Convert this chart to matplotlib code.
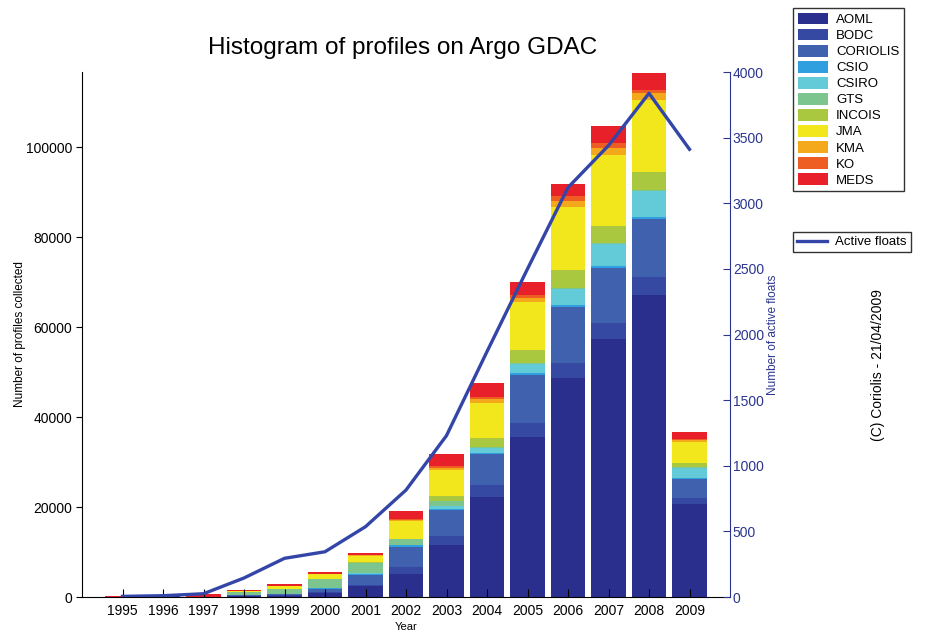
import matplotlib
matplotlib.use("Agg")
import matplotlib.pyplot as plt
from matplotlib.patches import Patch
from matplotlib.lines import Line2D

"""
Argo GDAC profiles per year, stacked by DAC, with active floats on a second axis
"""

years = list(range(1995, 2010))

dacs = ["AOML", "BODC", "CORIOLIS", "CSIO", "CSIRO", "GTS", "INCOIS", "JMA", "KMA", "KO", "MEDS"]
dac_colors = ["#2a2f8e", "#3549a3", "#3f61ae", "#2f9fdf", "#63cbd8", "#7cc58f",
	"#a9c840", "#f2e61c", "#f4a81c", "#ee5e22", "#e8202a"]

aoml = [50, 200, 100, 200, 300, 1000, 2400, 5200, 11500, 22300, 35600, 48600, 57300, 67200, 20600]
bodc = [0, 0, 0, 100, 100, 200, 300, 1500, 2100, 2600, 3000, 3500, 3500, 4000, 1500]
coriolis = [0, 0, 0, 100, 200, 600, 2100, 4400, 5700, 6900, 10800, 12400, 12400, 12700, 4100]
csio = [0, 0, 0, 100, 100, 200, 300, 400, 300, 200, 300, 400, 300, 500, 300]
csiro = [0, 0, 0, 0, 0, 100, 200, 100, 700, 1100, 2100, 3500, 4900, 5800, 2200]
gts = [0, 0, 0, 600, 1000, 1800, 2300, 1300, 1100, 300, 300, 300, 300, 300, 300]
incois = [0, 0, 0, 100, 100, 100, 100, 100, 1100, 2000, 2900, 3900, 3700, 4000, 800]
jma = [0, 0, 0, 200, 700, 1100, 1500, 3800, 5700, 7700, 10500, 14100, 15800, 15900, 4600]
kma = [0, 0, 0, 0, 50, 50, 100, 300, 450, 800, 1000, 1250, 1500, 1500, 400]
ko = [0, 0, 0, 0, 0, 50, 100, 300, 500, 600, 700, 1100, 1100, 800, 300]
meds = [200, 0, 500, 150, 350, 400, 450, 1700, 2600, 3100, 2900, 2800, 3900, 3800, 1600]

active_floats = [5, 10, 25, 145, 295, 345, 536, 815, 1230, 1870, 2500, 3120, 3440, 3838, 3411]

left_ticks = [0, 20000, 40000, 60000, 80000, 100000]
right_ticks = list(range(0, 4001, 500))

line_color = "#3346a8"
axis_blue = "#2b3590"


def stacked_bars(ax, series):
	"""draws the stacked bars, bottom up in dacs order"""
	bottom = [0] * len(years)
	for name, values, color in zip(dacs, series, dac_colors):
		ax.bar(years, values, width=0.84, bottom=bottom, color=color, label=name,
			linewidth=0)
		bottom = [b + v for b, v in zip(bottom, values)]


def main():
	plt.rcParams["font.family"] = ["Liberation Sans", "DejaVu Sans"]

	fig = plt.figure(figsize=(9.33, 6.35), dpi=100)
	ax = fig.add_axes([82 / 933, 0.0598, 648 / 933, 0.8268])

	series = [aoml, bodc, coriolis, csio, csiro, gts, incois, jma, kma, ko, meds]
	stacked_bars(ax, series)

	ax.set_xlim(1994, 2010)
	ax.set_ylim(0, 116667)
	ax.set_xticks(years)
	ax.set_xticklabels([str(y) for y in years])
	ax.set_yticks(left_ticks)
	ax.set_yticklabels([str(t) for t in left_ticks])
	ax.tick_params(axis="x", direction="in", length=6, labelsize=10, pad=5)
	ax.tick_params(axis="y", direction="out", length=4, labelsize=10, pad=3)
	ax.spines["top"].set_visible(False)
	ax.spines["right"].set_visible(False)
	ax.set_xlabel("Year", fontsize=8, labelpad=3)
	ax.set_ylabel("Number of profiles collected", fontsize=8.5, labelpad=0)
	fig.text(403 / 933, 1 - 48 / 635, "Histogram of profiles on Argo GDAC", fontsize=17.5,
		ha="center", va="center")

	# active floats on the right hand axis
	ax2 = ax.twinx()
	ax2.plot(years, active_floats, color=line_color, linewidth=2.4)
	ax2.set_ylim(0, 4000)
	ax2.set_yticks(right_ticks)
	ax2.set_yticklabels([str(t) for t in right_ticks])
	ax2.tick_params(axis="y", direction="in", length=5, labelsize=10,
		colors=axis_blue, pad=2)
	ax2.spines["right"].set_color(axis_blue)
	ax2.spines["top"].set_visible(False)
	ax2.spines["left"].set_visible(False)
	ax2.spines["bottom"].set_visible(False)
	ax2.set_ylabel("Number of active floats", fontsize=8.5, color=axis_blue, labelpad=2)

	# legends sit outside the axes on the right
	handles = [Patch(facecolor=c, edgecolor="none") for c in dac_colors]
	leg1 = fig.legend(handles, dacs, loc="upper left", bbox_to_anchor=(793 / 933, 1 - 8 / 635),
		fontsize=9.5, frameon=True, fancybox=False, handlelength=2.3, handleheight=1.0,
		labelspacing=0.2, borderpad=0.35, handletextpad=0.6, borderaxespad=0)
	leg1.get_frame().set_edgecolor("black")
	leg1.get_frame().set_linewidth(1.0)

	leg2 = fig.legend([Line2D([0], [0], color=line_color, linewidth=2.4)], ["Active floats"],
		loc="upper left", bbox_to_anchor=(793 / 933, 1 - 232 / 635), fontsize=9.5,
		frameon=True, fancybox=False, handlelength=2.3, borderpad=0.3,
		handletextpad=0.6, borderaxespad=0)
	leg2.get_frame().set_edgecolor("black")
	leg2.get_frame().set_linewidth(1.0)

	fig.text(878 / 933, 1 - 365 / 635, "(C) Coriolis - 21/04/2009", rotation=90,
		fontsize=10, ha="center", va="center")

	fig.savefig("out.png", dpi=100)


if __name__ == "__main__":
	main()
